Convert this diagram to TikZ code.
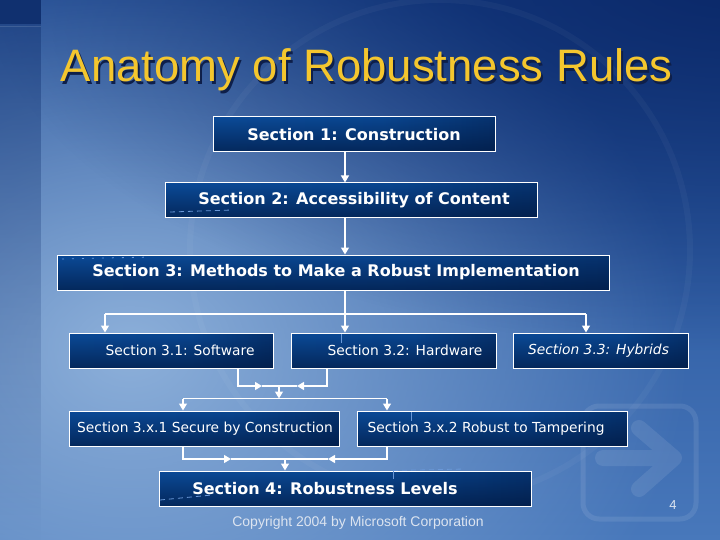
\documentclass[tikz,border=0pt]{standalone}
\usepackage{fontspec}
\setmainfont{Liberation Sans}
\newfontfamily\boxfont{DejaVu Sans}
\usetikzlibrary{arrows.meta,fadings,fit,calc}

\definecolor{bgTop}{HTML}{19448E}
\definecolor{bgBot}{HTML}{4878BB}
\definecolor{bgGlow}{HTML}{8DB0DA}
\definecolor{bgDark}{HTML}{0B2868}
\definecolor{stripDark}{HTML}{10306F}
\definecolor{boxL}{HTML}{0C4E9E}
\definecolor{boxM}{HTML}{0A4690}
\definecolor{boxR}{HTML}{021A45}
\definecolor{boxD}{HTML}{01163C}
\definecolor{titleYellow}{HTML}{F4C62E}
\definecolor{titleShadow}{HTML}{0E1F4A}
\definecolor{ghost}{HTML}{6A98D8}
\definecolor{footGray}{HTML}{DCE4F0}

\pgfdeclarehorizontalshading{boxshade}{100bp}{color(0bp)=(boxL); color(55bp)=(boxM); color(100bp)=(boxR)}
\tikzfading[name=glowfade, inner color=transparent!0, outer color=transparent!100]
\tikzfading[name=botdark, top color=transparent!100, middle color=transparent!90, bottom color=transparent!35]
\tikzfading[name=topfade, top color=transparent!15, bottom color=transparent!100]

\newcommand{\titletext}{Anatomy of Robustness Rules}

\tikzset{
  box/.style={draw=white, line width=1pt, inner sep=0pt,
    path picture={
      \shade[shading=boxshade] (path picture bounding box.south west) rectangle (path picture bounding box.north east);
      \fill[boxD, path fading=botdark] (path picture bounding box.south west) rectangle (path picture bounding box.north east);
    }},
  bigtxt/.style={text=white, inner sep=0pt, font=\boxfont\bfseries\fontsize{16}{19}\selectfont},
  smalltxt/.style={text=white, inner sep=0pt, font=\boxfont\fontsize{13.8}{17}\selectfont},
  wire/.style={draw=white, line width=1.4pt},
  arr/.style={wire, -{Triangle[width=8pt,length=7pt]}},
  ghostline/.style={draw=ghost, line width=0.8pt, dash pattern=on 5pt off 4pt},
}

\begin{document}
\begin{tikzpicture}[x=1pt,y=-1pt]
\useasboundingbox (0,0) rectangle (720,540);

% ---------- background ----------
\shade[top color=bgTop, bottom color=bgBot] (0,0) rectangle (720,540);
\begin{scope}
  \clip (0,0) rectangle (720,540);
  \fill[bgGlow, path fading=glowfade] (130,350) ellipse (560 and 440);
  \fill[bgDark, path fading=glowfade] (740,-30) ellipse (760 and 380);
  \fill[stripDark, opacity=0.55, path fading=topfade] (0,0) rectangle (41,540);
  \fill[stripDark] (0,0) rectangle (41,24);
  \draw[white, opacity=0.12, line width=1.5pt] (0,26.5) -- (41,26.5);
  \begin{scope}[transparency group, opacity=0.09]
    \draw[white, line width=5pt, rounded corners=16pt] (583,406) rectangle (696,519);
    \draw[white, line width=16pt, line cap=round] (603,458) -- (668,458);
    \draw[white, line width=16pt, line cap=round, line join=round] (639,428) -- (674,458) -- (639,489);
  \end{scope}
  \begin{scope}[transparency group, opacity=0.035]
    \draw[white, line width=6pt] (440,250) circle (250);
  \end{scope}
\end{scope}

% ---------- title (with drop shadow inside the same node) ----------
\node[anchor=base west, inner sep=0pt, text=titleYellow,
      font=\fontsize{45.5}{50}\selectfont] (title) at (60.5,82)
  {\makebox[0pt][l]{\hspace{2pt}\raisebox{-2.5pt}{\textcolor{titleShadow}{\titletext}}}\titletext};

% ---------- boxes ----------
\node[box, fit={(213,117) (495,152)}] (s1) {};
\node[box, fit={(165,183) (537,218)}] (s2) {};
\node[box, fit={(57,255) (609,290)}] (s3) {};
\node[box, fit={(69,333) (273,368)}] (s31) {};
\node[box, fit={(291,333) (496,368)}] (s32) {};
\node[box, fit={(513,333) (688,368)}] (s33) {};
\node[box, fit={(69,411) (339,446)}] (sx1) {};
\node[box, fit={(357,411) (627,446)}] (sx2) {};
\node[box, fit={(159,471) (531,506)}] (s4) {};

% ghost dashes (remnants visible in the picture)
\draw[ghostline] (170,212) -- (232,210);
\draw[ghostline, dash pattern=on 2pt off 8pt] (62,259) -- (150,257);
\draw[ghostline] (160,500) -- (212,495);
\draw[ghostline] (393,470.5) -- (465,469);
\draw[ghostline, dash pattern=on 8pt off 3pt] (393,471) -- (393,480);
\draw[ghostline, dash pattern=on 9pt off 3pt] (341,334) -- (341,346);
\draw[ghostline, dash pattern=on 9pt off 3pt] (411,412) -- (411,424);

% ---------- texts ----------
\node[bigtxt] (t1) at (354,135) {Section 1: Construction};
\node[bigtxt] (t2) at (354,200.5) {Section 2: Accessibility of Content};
\node[bigtxt] (t3) at (336,272.5) {Section 3: Methods to Make a Robust Implementation};
\node[smalltxt] (t31) at (180,350.5) {Section 3.1: Software};
\node[smalltxt] (t32) at (405,350.5) {Section 3.2: Hardware};
\node[smalltxt, font=\boxfont\itshape\fontsize{13.8}{17}\selectfont] (t33) at (598.5,350.5) {Section 3.3: Hybrids};
\node[smalltxt] (tx1) at (205,428.5) {Section 3.x.1 Secure by Construction};
\node[smalltxt] (tx2) at (486,428.5) {Section 3.x.2 Robust to Tampering};
\node[bigtxt] (t4) at (325,489) {Section 4: Robustness Levels};

% ---------- connectors ----------
\coordinate (cx) at (345,0);
\coordinate (xa) at (105,0);
\coordinate (xb) at (586,0);
\coordinate (x31) at (238,0);
\coordinate (x32) at (327,0);
\coordinate (xl) at (183,0);
\coordinate (xr) at (387,0);
\coordinate (ya) at (0,314);

\draw[arr] (cx |- s1.south) -- (cx |- s2.north);
\draw[arr] (cx |- s2.south) -- (cx |- s3.north);
\draw[arr] (cx |- s3.south) -- (cx |- s32.north);
\draw[wire] (xa |- ya) -- (xb |- ya);
\draw[arr] (xa |- ya) -- (xa |- s31.north);
\draw[arr] (xb |- ya) -- (xb |- s33.north);

\coordinate (m1l) at (262,386);
\coordinate (m1r) at (297,386);
\coordinate (m1) at (279,386);
\coordinate (m1d) at (279,398.5);
\draw[wire] (m1l) -- (m1r);
\draw[arr] (x31 |- s31.south) |- (m1l);
\draw[arr] (x32 |- s32.south) |- (m1r);
\draw[arr] (m1) -- (m1d);
\draw[wire] (xl |- m1d) -- (xr |- m1d);
\draw[arr] (xl |- m1d) -- (xl |- sx1.north);
\draw[arr] (xr |- m1d) -- (xr |- sx2.north);

\coordinate (m2l) at (231,459);
\coordinate (m2r) at (328,459);
\coordinate (m2) at (285,459);
\draw[wire] (m2l) -- (m2r);
\draw[arr] (xl |- sx1.south) |- (m2l);
\draw[arr] (xr |- sx2.south) |- (m2r);
\draw[arr] (m2) -- (m2 |- s4.north);

% ---------- footer ----------
\node[anchor=base, inner sep=0pt, text=footGray, font=\fontsize{14}{16}\selectfont] (copy) at (358,526) {Copyright 2004 by Microsoft Corporation};
\node[anchor=base, inner sep=0pt, text=footGray, font=\fontsize{13}{15}\selectfont] (pnum) at (673,509) {4};
\end{tikzpicture}
\end{document}
